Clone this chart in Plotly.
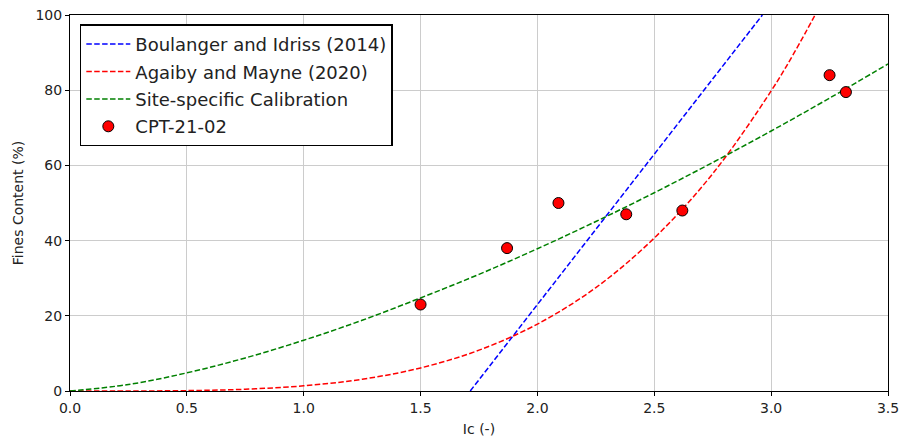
import plotly.graph_objects as go

# Curve values
curve_ic = [0.0, 0.25, 0.5, 0.75, 1.0, 1.25, 1.5, 1.75, 2.0, 2.25, 2.5, 2.75, 3.0, 3.25, 3.5]
site_fc = [0.0, 1.72, 4.82, 8.80, 13.5, 18.81, 24.75, 31.03, 37.84, 45.08, 52.73, 60.77, 69.15, 77.9, 86.97]
agaiby_ic = [0.0, 0.25, 0.5, 0.75, 1.0, 1.25, 1.5, 1.75, 2.0, 2.25, 2.5, 2.75, 3.0, 3.1, 3.2]
agaiby_fc = [0.0, 0.01, 0.1, 0.47, 1.37, 3.13, 6.14, 10.86, 17.8, 27.5, 40.7, 57.8, 79.8, 90.1, 101.4]
boul_ic = [1.7125, 2.9625]
boul_fc = [0.0, 100.0]

# Measured data
cpt_ic = [1.50, 1.87, 2.09, 2.38, 2.62, 3.25, 3.32]
cpt_fc = [23.0, 38.0, 50.0, 47.0, 48.0, 84.0, 79.5]

dash = "5.5px,2.4px"
fig = go.Figure()
fig.add_trace(go.Scatter(x=boul_ic, y=boul_fc, mode="lines", name="Boulanger and Idriss (2014)",
                         legendgroup="a",
                         line=dict(color="blue", width=1.5, dash=dash)))
fig.add_trace(go.Scatter(x=agaiby_ic, y=agaiby_fc, mode="lines", name="Agaiby and Mayne (2020)",
                         legendgroup="b",
                         line=dict(color="red", width=1.5, dash=dash, shape="spline")))
fig.add_trace(go.Scatter(x=curve_ic, y=site_fc, mode="lines", name="Site-specific Calibration",
                         legendgroup="c",
                         line=dict(color="green", width=1.5, dash=dash, shape="spline")))
fig.add_trace(go.Scatter(x=cpt_ic, y=cpt_fc, mode="markers", name="CPT-21-02",
                         legendgroup="d",
                         marker=dict(color="red", size=11, line=dict(color="black", width=1))))

axis_common = dict(showline=True, linecolor="black", linewidth=1, mirror=True,
                   ticks="outside", ticklen=4, tickcolor="black",
                   showgrid=True, gridcolor="#cccccc", gridwidth=1, zeroline=False,
                   automargin=False,
                   tickfont=dict(family="DejaVu Sans", size=14, color="#222"))

fig.update_layout(
    width=900, height=437,
    margin=dict(l=70, r=12, t=15, b=46),
    paper_bgcolor="white", plot_bgcolor="white",
    font=dict(family="DejaVu Sans", size=13, color="#222"),
    xaxis=dict(range=[0, 3.5], dtick=0.5, tickformat=".1f",
               title=dict(text="Ic (-)", font=dict(size=14), standoff=9), **axis_common),
    yaxis=dict(range=[0, 100], dtick=20,
               title=dict(text="Fines Content (%)", font=dict(size=14), standoff=8), **axis_common),
    legend=dict(x=0.012, y=0.975, xanchor="left", yanchor="top",
                bgcolor="white", bordercolor="black", borderwidth=1.5,
                font=dict(family="DejaVu Sans", size=18, color="#222"),
                tracegroupgap=1, itemwidth=44),
    showlegend=True,
)

fig.write_html("out.html")
